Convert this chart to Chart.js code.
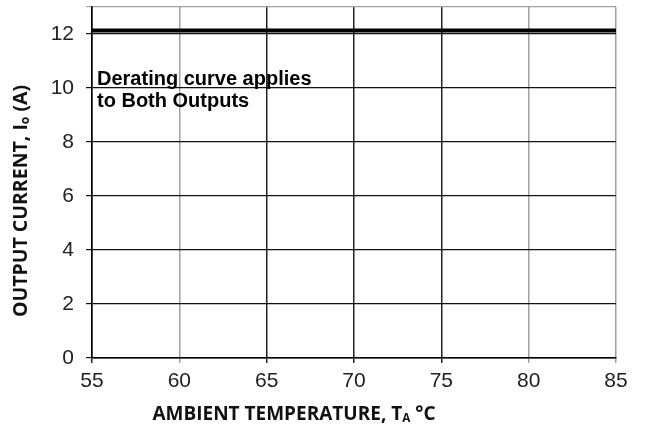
<!DOCTYPE html>
<html>
<head>
<meta charset="utf-8">
<script src="https://cdn.jsdelivr.net/npm/chart.js@4"></script>
<style>
  html, body { margin: 0; padding: 0; background: #fff; }
  #wrap { width: 647px; height: 428px; }
</style>
</head>
<body>
<div id="wrap"><canvas id="derating" width="647" height="428"></canvas></div>
<script>
// Derating curve: ambient temperature vs output current
const temps = [55, 85];
const current = [12.13, 12.13];
const xTicks = [55, 60, 65, 70, 75, 80, 85];
const yTicks = [0, 2, 4, 6, 8, 10, 12];
const noteLines = ['Derating curve applies', 'to Both Outputs'];

// gridlines that are drawn lighter in the original
const lightTemps = [60, 80, 85];

// Draws text pieces, some of them as subscripts
function drawParts(ctx, parts, x, y, size, family) {
  let cx = x;
  parts.forEach(p => {
    const s = p.sub ? size * 0.62 : size;
    ctx.font = `bold ${s}px ${family}`;
    ctx.fillText(p.t, cx, p.sub ? y + size * 0.12 : y);
    cx += ctx.measureText(p.t).width;
  });
  return cx - x;
}

function partsWidth(ctx, parts, size, family) {
  let w = 0;
  parts.forEach(p => {
    const s = p.sub ? size * 0.62 : size;
    ctx.font = `bold ${s}px ${family}`;
    w += ctx.measureText(p.t).width;
  });
  return w;
}

const titleFont = '"Open Sans"';
const xTitle = [{t: 'AMBIENT TEMPERATURE, T'}, {t: 'A', sub: true}, {t: ' °C'}];
const yTitle = [{t: 'OUTPUT CURRENT, I'}, {t: 'o', sub: true}, {t: ' (A)'}];

// Axis titles and the note inside the plot
const extras = {
  id: 'extras',
  afterDraw(chart) {
    const ctx = chart.ctx;
    const xs = chart.scales.x, ys = chart.scales.y;
    ctx.save();
    ctx.fillStyle = '#111';
    ctx.textBaseline = 'alphabetic';
    ctx.textAlign = 'left';

    // x title
    let w = partsWidth(ctx, xTitle, 19, titleFont);
    drawParts(ctx, xTitle, 294 - w / 2, 420, 19, titleFont);

    // y title, rotated
    ctx.save();
    ctx.translate(27, 201);
    ctx.rotate(-Math.PI / 2);
    w = partsWidth(ctx, yTitle, 19.5, titleFont);
    drawParts(ctx, yTitle, -w / 2, 0, 19.5, titleFont);
    ctx.restore();

    // note
    ctx.font = 'bold 20px "Liberation Sans", Arial, sans-serif';
    ctx.fillStyle = '#000';
    const nx = xs.getPixelForValue(55) + 5;
    noteLines.forEach((line, i) => {
      ctx.fillText(line, nx, ys.getPixelForValue(9.3) - 22 * (1 - i));
    });
    ctx.restore();
  }
};

new Chart(document.getElementById('derating'), {
  type: 'line',
  data: {
    datasets: [{
      data: temps.map((t, i) => ({x: t, y: current[i]})),
      borderColor: '#000',
      borderWidth: 4,
      pointRadius: 0,
      fill: false
    }]
  },
  options: {
    responsive: false,
    animation: false,
    layout: { padding: { top: 7, right: 31, left: 0, bottom: 0 } },
    plugins: { legend: { display: false }, tooltip: { enabled: false } },
    scales: {
      x: {
        type: 'linear',
        min: 55,
        max: 85,
        afterBuildTicks: axis => { axis.ticks = xTicks.map(v => ({value: v})); },
        afterFit: axis => {
          axis.height = 70;
          axis.paddingLeft = 0;
          axis.paddingRight = 0;
        },
        ticks: {
          color: '#222',
          padding: 6,
          font: { family: '"Liberation Sans", Arial, sans-serif', size: 21 }
        },
        grid: {
          color: c => lightTemps.includes(c.tick && c.tick.value) ? '#a0a0a0' : '#222',
          tickLength: 5,
          lineWidth: 1.5
        },
        border: { color: '#000', width: 1.5 }
      },
      y: {
        min: 0,
        max: 13,
        afterBuildTicks: axis => { axis.ticks = yTicks.concat([13]).map(v => ({value: v})); },
        afterFit: axis => {
          axis.width = 92;
          axis.paddingTop = 0;
          axis.paddingBottom = 0;
        },
        ticks: {
          color: '#222',
          padding: 12,
          callback: v => v === 13 ? '' : v,
          font: { family: '"Liberation Sans", Arial, sans-serif', size: 21 }
        },
        grid: {
          color: c => (c.tick && c.tick.value === 13) ? '#a0a0a0' : '#111',
          tickLength: 6,
          lineWidth: 1.2
        },
        border: { color: '#000', width: 1.5 }
      }
    }
  },
  plugins: [extras]
});
</script>
</body>
</html>
